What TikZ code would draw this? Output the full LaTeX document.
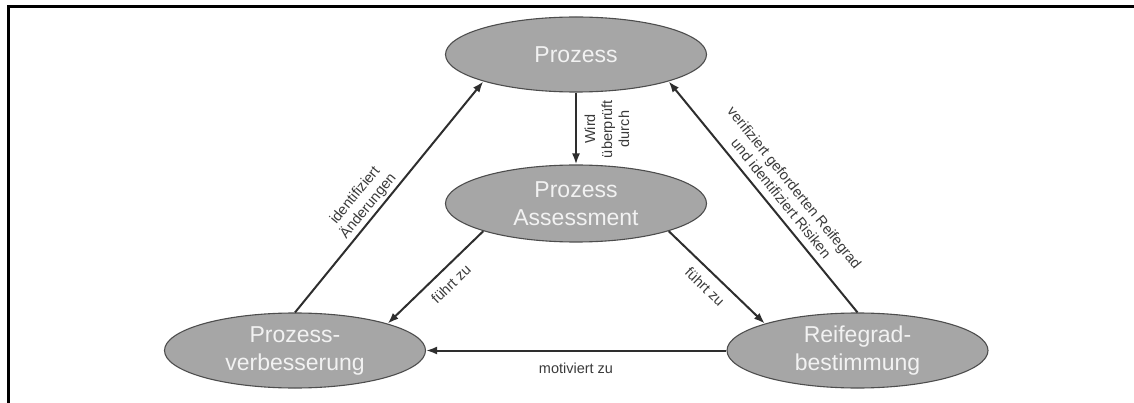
\documentclass[tikz,border=0pt]{standalone}
\usepackage{fontspec}
\setmainfont{Liberation Sans}
\usetikzlibrary{arrows.meta,shapes.geometric}
\definecolor{ellfill}{HTML}{A6A6A6}
\definecolor{ellline}{HTML}{4D4D4D}
\definecolor{ink}{HTML}{2E2E2E}
\definecolor{lbl}{HTML}{3A3A3A}
\begin{document}
\begin{tikzpicture}[x=1pt,y=-1pt,
  stage/.style={ellipse, draw=ellline, line width=1.1pt, fill=ellfill,
    minimum width=261pt, minimum height=75pt, inner sep=0pt,
    text=white!95!black, align=center, font=\fontsize{23}{28}\selectfont},
  flow/.style={draw=ink, line width=2pt, -{Latex[length=11pt,width=8pt]}},
  edgelabel/.style={text=lbl, align=center, inner sep=0pt,
    font=\fontsize{14.5}{17}\selectfont}]
  \useasboundingbox (0,0) rectangle (1134,403);
  % frame
  \draw[line width=2.3pt] (8.5,403) -- (8.5,6.5) -- (1134,6.5);

  % stages
  \node[stage] (p) at (576,54.5) {Prozess};
  \node[stage, minimum height=77pt] (a) at (576,203.5) {Prozess\\Assessment};
  \node[stage] (v) at (295,350.5) {Prozess-\\verbesserung};
  \node[stage] (r) at (857.5,350.5) {Reifegrad-\\bestimmung};

  % connectors
  \draw[flow] (p.south) -- (a.north);
  \draw[flow] (a.south west) -- (v.north east);
  \draw[flow] (a.south east) -- (r.north west);
  \draw[flow] (r.west) -- (v.east);
  \draw[flow] (v.north) -- (p.south west);
  \draw[flow] (r.north) -- (p.south east);

  % connector labels
  \node[edgelabel, rotate=90] (lpa) at (607,129) {Wird\\überprüft\\durch};
  \node[edgelabel, rotate=44] (lav) at (451,284) {führt zu};
  \node[edgelabel, rotate=-44] (lar) at (705,287) {führt zu};
  \node[edgelabel] (lrv) at (576,368) {motiviert zu};
  \node[edgelabel, rotate=50.5] (lvp) at (362,201) {identifiziert\\Änderungen};
  \node[edgelabel, rotate=-51] (lrp) at (788,193) {verifiziert geforderten Reifegrad\\und identifiziert Risiken};
\end{tikzpicture}
\end{document}
